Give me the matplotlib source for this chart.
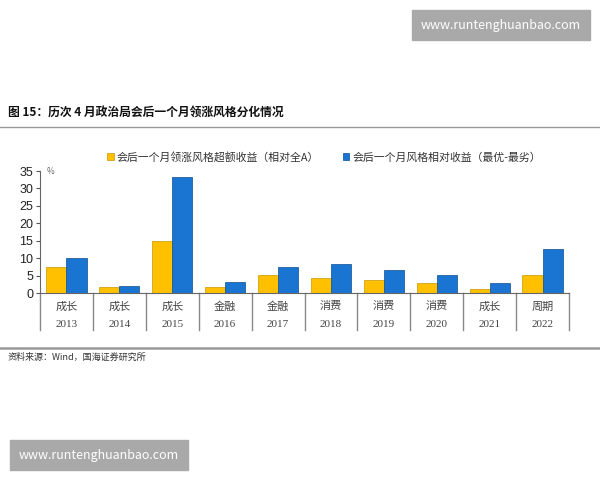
import matplotlib
matplotlib.use("Agg")
import matplotlib.pyplot as plt
import matplotlib.transforms as mtransforms
from matplotlib.patches import Rectangle
import numpy as np

plt.rcParams['font.family'] = ['Noto Sans CJK SC', 'DejaVu Sans']

years = ["2013", "2014", "2015", "2016", "2017", "2018", "2019", "2020", "2021", "2022"]
styles = ["成长", "成长", "成长", "金融", "金融", "消费", "消费", "消费", "成长", "周期"]
excess_return = [7.6, 1.6, 14.8, 1.6, 5.3, 4.3, 3.6, 3.0, 1.2, 5.2]
style_spread = [9.9, 2.1, 33.4, 3.2, 7.5, 8.2, 6.6, 5.3, 3.0, 12.5]
series_names = ["会后一个月领涨风格超额收益（相对全A）", "会后一个月风格相对收益（最优-最劣）"]

fig = plt.figure(figsize=(6, 4.8), dpi=100)
ax = fig.add_axes([40 / 600, 187 / 480, 529 / 600, 122 / 480])

x = np.arange(len(years))
w = 0.38
ax.bar(x - w / 2, excess_return, w, color="#FFC000", edgecolor="#C89600", linewidth=0.5, label=series_names[0])
ax.bar(x + w / 2, style_spread, w, color="#1A75D2", edgecolor="#0E4E8F", linewidth=0.5, label=series_names[1])

ax.set_xlim(-0.5, len(years) - 0.5)
ax.set_ylim(0, 35)
ax.set_yticks(range(0, 36, 5))
ax.tick_params(axis="y", labelsize=9, length=3, color="#555555", labelcolor="#222222", pad=2)
for t in ax.get_yticklabels():
    t.set_fontfamily("Liberation Sans")
ax.set_xticks([])
for s in ["top", "right"]:
    ax.spines[s].set_visible(False)
ax.spines["left"].set_color("#666666")
ax.spines["bottom"].set_color("#666666")
ax.text(0.012, 35, "%", fontsize=6, color="#666666", va="center",
        transform=mtransforms.blended_transform_factory(ax.transAxes, ax.transData))

# category separators and two label rows under the axis
trans = mtransforms.blended_transform_factory(ax.transData, ax.transAxes)
for b in np.arange(-0.5, len(years), 1.0):
    ax.plot([b, b], [0, -0.30], color="#888888", lw=1.0, transform=trans, clip_on=False)
for i in range(len(years)):
    ax.text(i, -0.11, styles[i], ha="center", va="center", fontsize=8, color="#444444", transform=trans)
    ax.text(i, -0.26, years[i], ha="center", va="center", fontsize=8, color="#444444",
            family="Liberation Serif", transform=trans)

leg = fig.legend(loc="center", bbox_to_anchor=(0.54, 1 - 157 / 480), ncol=2, frameon=False,
                 fontsize=7.8, handlelength=0.6, handleheight=0.6, columnspacing=2.15, handletextpad=0.3)
for t in leg.get_texts():
    t.set_color("#333333")

# title, rules, source
fig.text(8 / 600, 1 - 113 / 480, "图 15：历次 4 月政治局会后一个月领涨风格分化情况", fontsize=8.5,
         fontweight="bold", va="center", color="#111111")
fig.add_artist(plt.Line2D([0, 1], [1 - 127 / 480] * 2, color="#999999", lw=1.0))
fig.add_artist(plt.Line2D([0, 1], [1 - 348 / 480] * 2, color="#999999", lw=1.8))
fig.text(8 / 600, 1 - 357 / 480, "资料来源：Wind，国海证券研究所", fontsize=6.5, va="center", color="#333333")

# watermark boxes
for (x0, y0, bw, bh) in [(412, 10, 178, 30), (10, 440, 178, 30)]:
    fig.add_artist(Rectangle((x0 / 600, 1 - (y0 + bh) / 480), bw / 600, bh / 480,
                             transform=fig.transFigure, color="#A9A9A9", zorder=5))
    fig.text((x0 + bw / 2) / 600, 1 - (y0 + bh / 2) / 480, "www.runtenghuanbao.com", ha="center",
             va="center", fontsize=9, color="white", zorder=6)

fig.savefig("out.png", dpi=100, facecolor="white")
